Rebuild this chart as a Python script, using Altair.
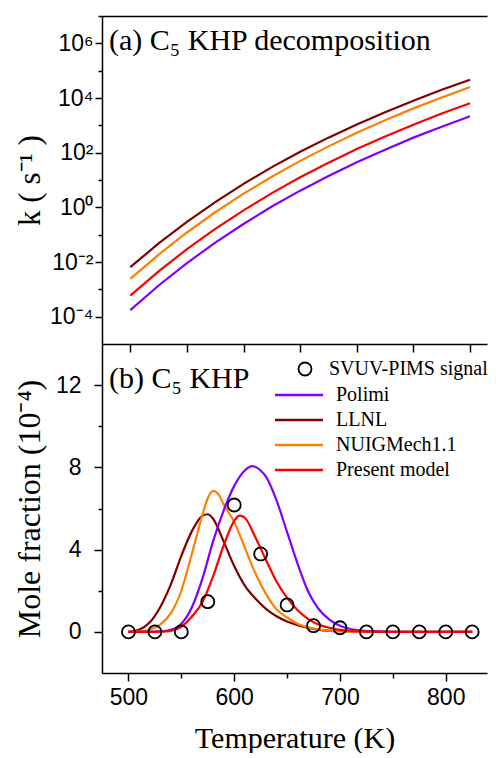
import altair as alt
import pandas as pd
import math

# ---------------- data ----------------
models = ["Polimi", "LLNL", "NUIGMech1.1", "Present model"]
model_colors = ["#8000FF", "#800000", "#FF8000", "#FF0000"]

# (a) rate constants, log10(k / s^-1)
T_k = [500, 525, 550, 575, 600, 625, 650, 675, 700, 725, 750, 775, 800]
logk_llnl = [-2.19, -1.32, -0.53, 0.19, 0.86, 1.47, 2.03, 2.55, 3.03, 3.48, 3.90, 4.30, 4.67]
logk_nuig = [-2.62, -1.73, -0.92, -0.18, 0.50, 1.12, 1.70, 2.23, 2.73, 3.19, 3.62, 4.02, 4.40]
logk_present = [-3.23, -2.34, -1.53, -0.79, -0.11, 0.52, 1.10, 1.63, 2.13, 2.59, 3.02, 3.43, 3.81]
logk_polimi = [-3.76, -2.86, -2.04, -1.29, -0.61, 0.03, 0.61, 1.15, 1.65, 2.11, 2.55, 2.95, 3.33]

# (b) mole fractions (1e-4)
T_llnl = [500, 510, 520, 530, 540, 550, 560, 570, 575, 580, 590, 600, 610, 620, 630, 640, 650, 660, 670, 680, 690, 700, 720, 750, 800, 825]
x_llnl = [0, 0.1, 0.45, 1.2, 2.3, 3.7, 4.9, 5.65, 5.72, 5.5, 4.4, 3.2, 2.25, 1.62, 1.12, 0.76, 0.5, 0.32, 0.19, 0.1, 0.05, 0.03, 0.01, 0, 0, 0]
T_nuig = [500, 510, 520, 530, 540, 550, 560, 570, 575, 580, 585, 590, 600, 610, 620, 630, 640, 650, 660, 670, 680, 690, 700, 720, 750, 800, 825]
x_nuig = [0, 0.02, 0.1, 0.35, 0.9, 2.0, 3.8, 5.7, 6.5, 6.86, 6.7, 6.2, 5.35, 4.1, 2.85, 1.85, 1.1, 0.7, 0.4, 0.22, 0.12, 0.06, 0.03, 0.01, 0, 0, 0]
T_polimi = [500, 520, 530, 540, 550, 560, 570, 580, 590, 600, 610, 617, 625, 630, 640, 650, 660, 670, 680, 690, 700, 710, 720, 730, 750, 800, 825]
x_polimi = [0, 0, 0.02, 0.1, 0.4, 1.2, 2.6, 4.4, 5.9, 7.1, 7.85, 8.06, 7.85, 7.55, 6.4, 4.85, 3.3, 1.95, 1.1, 0.6, 0.3, 0.14, 0.06, 0.02, 0, 0, 0]
T_present = [500, 520, 530, 540, 550, 560, 570, 580, 590, 600, 605, 610, 620, 630, 640, 650, 660, 670, 680, 690, 700, 710, 720, 740, 800, 825]
x_present = [0, 0, 0.01, 0.05, 0.25, 0.75, 1.45, 2.7, 4.2, 5.4, 5.65, 5.55, 4.6, 3.5, 2.45, 1.65, 1.05, 0.62, 0.35, 0.2, 0.1, 0.05, 0.02, 0, 0, 0]

T_exp = [500, 525, 550, 575, 600, 625, 650, 675, 700, 725, 750, 775, 800, 825]
x_exp = [0, 0, 0, 1.47, 6.17, 3.79, 1.31, 0.3, 0.2, 0, 0, 0, 0, 0]
exp_label = "SVUV-PIMS signal"

k_major = [1e-4, 1e-2, 1e0, 1e2, 1e4, 1e6]
k_major_labels = ["10⁻⁴", "10⁻²", "10⁰", "10²", "10⁴", "10⁶"]
k_minor = [1e-3, 1e-1, 1e1, 1e3, 1e5, 1e7]

panel_a = "(a) C₅ KHP decomposition"
panel_b = "(b) C₅ KHP"

# ---------------- frames ----------------
rows = []
for name, vals in [("LLNL", logk_llnl), ("NUIGMech1.1", logk_nuig),
                   ("Polimi", logk_polimi), ("Present model", logk_present)]:
    for t, v in zip(T_k, vals):
        rows.append({"T": t, "k": 10 ** v, "model": name})
df_k = pd.DataFrame(rows)

rows = []
for name, ts, vals in [("LLNL", T_llnl, x_llnl), ("NUIGMech1.1", T_nuig, x_nuig),
                       ("Polimi", T_polimi, x_polimi), ("Present model", T_present, x_present)]:
    for t, v in zip(ts, vals):
        rows.append({"T": t, "x": v, "model": name})
df_x = pd.DataFrame(rows)
df_exp = pd.DataFrame({"T": T_exp, "x": x_exp, "src": [exp_label] * len(T_exp)})

conds = []
for v, lab in zip(k_major, k_major_labels):
    e = int(round(math.log10(v)))
    conds.append(f"abs(log(datum.value)/LN10 - ({e})) < 0.1 ? '{lab}' : ")
label_expr = "".join(conds) + "''"

W = 385
H_TOP = 328
H_BOT = 329
AX = dict(domainColor="black", domainWidth=1.5, tickColor="black", tickWidth=1.5, grid=False)

color_scale = alt.Scale(domain=models, range=model_colors)

# ---------------- panel (a) ----------------
xs_top = alt.Scale(domain=[475, 815], nice=False, zero=False)
ys_top = alt.Scale(type="log", domain=[1e-5, 1e7], nice=False)

top_lines = alt.Chart(df_k).mark_line(strokeWidth=2.2).encode(
    x=alt.X("T:Q", scale=xs_top,
            axis=alt.Axis(orient="bottom", values=[500, 550, 600, 650, 700, 750, 800],
                          labels=False, tickSize=8, title=None, **AX)),
    y=alt.Y("k:Q", scale=ys_top,
            axis=alt.Axis(orient="left", values=k_major, labelExpr=label_expr, tickSize=7,
                          labelPadding=2, title="k ( s⁻¹ )", titleX=-56, titleAngle=270,
                          titleBaseline="bottom", titleFontSize=31, **AX)),
    color=alt.Color("model:N", scale=color_scale, legend=None),
)
top_frame = alt.Chart(df_k).mark_line(opacity=0).encode(
    x=alt.X("T:Q", scale=xs_top,
            axis=alt.Axis(orient="top", ticks=False, labels=False, title=None, **AX)),
    y=alt.Y("k:Q", scale=ys_top,
            axis=alt.Axis(orient="left", values=k_minor, labels=False, tickSize=4,
                          domain=False, title=None, tickColor="black", tickWidth=1.5, grid=False)),
    detail="model:N",
)
top_text = alt.Chart(pd.DataFrame({"label": [panel_a]})).mark_text(
    align="left", baseline="middle", font="Liberation Serif", fontSize=30, color="black"
).encode(x=alt.value(7), y=alt.value(25), text="label:N")

top = alt.layer(top_lines, top_frame, top_text).resolve_axis(
    x="independent", y="independent").properties(width=W, height=H_TOP)

# ---------------- panel (b) ----------------
xs_bot = alt.Scale(domain=[475, 839], nice=False, zero=False)
ys_bot = alt.Scale(domain=[-2, 14], nice=False, zero=False)

bot_lines = alt.Chart(df_x).mark_line(strokeWidth=2.2, interpolate="monotone").encode(
    x=alt.X("T:Q", scale=xs_bot,
            axis=alt.Axis(orient="bottom", values=[500, 600, 700, 800], tickSize=8,
                          labelPadding=5, title="Temperature (K)", titlePadding=14,
                          titleFontSize=30, **AX)),
    y=alt.Y("x:Q", scale=ys_bot,
            axis=alt.Axis(orient="left", values=[0, 4, 8, 12], tickSize=8, labelPadding=13,
                          title="Mole fraction (10⁻⁴)", titleX=-56, titleAngle=270,
                          titleBaseline="bottom", titleFontSize=32, **AX)),
    color=alt.Color("model:N", scale=color_scale,
                    legend=alt.Legend(orient="none", legendX=186, legendY=40, title=None,
                                      symbolType="M-2.5,0H2.5", symbolSize=369,
                                      symbolStrokeWidth=2.5,
                                      labelFont="Liberation Serif", labelFontSize=20,
                                      labelColor="black", labelOffset=26, rowPadding=4, padding=0,
                                      labelLimit=0)),
)
bot_pts = alt.Chart(df_exp).mark_point(filled=False, size=169, strokeWidth=1.8, color="black",
                                       opacity=1).encode(
    x=alt.X("T:Q", scale=xs_bot, axis=None),
    y=alt.Y("x:Q", scale=ys_bot, axis=None),
    shape=alt.Shape("src:N", scale=alt.Scale(domain=[exp_label], range=["circle"]),
                    legend=alt.Legend(orient="none", legendX=193, legendY=15, title=None,
                                      symbolSize=169, symbolStrokeWidth=1.8, symbolOpacity=1,
                                      symbolStrokeColor="black", symbolFillColor="transparent",
                                      labelFont="Liberation Serif", labelFontSize=20,
                                      labelColor="black", labelOffset=14, padding=0,
                                      labelLimit=0)),
)
bot_minor = alt.Chart(df_exp).mark_point(opacity=0).encode(
    x=alt.X("T:Q", scale=xs_bot,
            axis=alt.Axis(orient="bottom", values=[550, 650, 750], labels=False, tickSize=5,
                          domain=False, title=None, tickColor="black", tickWidth=1.5, grid=False)),
    y=alt.Y("x:Q", scale=ys_bot,
            axis=alt.Axis(orient="left", values=[2, 6, 10], labels=False, tickSize=4,
                          domain=False, title=None, tickColor="black", tickWidth=1.5, grid=False)),
)
bot_text = alt.Chart(pd.DataFrame({"label": [panel_b]})).mark_text(
    align="left", baseline="middle", font="Liberation Serif", fontSize=30, color="black"
).encode(x=alt.value(7), y=alt.value(35), text="label:N")

bottom = alt.layer(bot_lines, bot_pts, bot_minor, bot_text).resolve_axis(
    x="independent", y="independent").properties(width=W, height=H_BOT)

chart = alt.vconcat(top, bottom, spacing=0, bounds="flush").resolve_scale(
    x="independent", color="independent", shape="independent"
).properties(
    padding={"left": 5, "top": 7, "right": 0, "bottom": 0}
).configure_view(stroke=None).configure_axis(
    labelFont="Liberation Sans", labelFontSize=23, labelColor="black",
    titleFont="Liberation Serif", titleFontSize=28, titleFontWeight="normal", titleColor="black",
)

chart.save("out.html", embed_options={"renderer": "svg", "actions": False})
